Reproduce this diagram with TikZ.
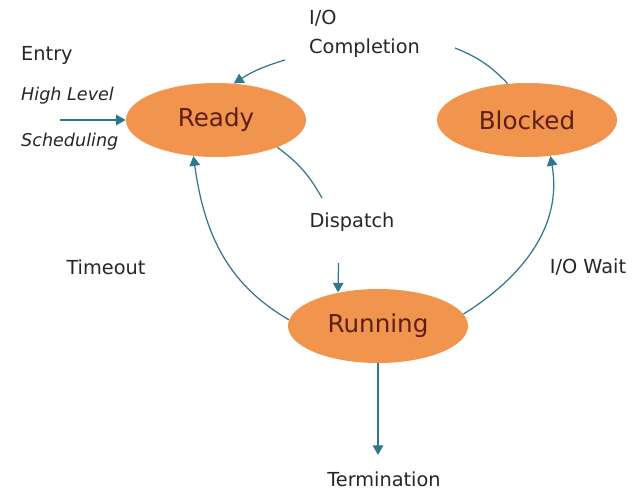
\documentclass[tikz,border=0pt]{standalone}
\usepackage{fontspec}
\setmainfont{DejaVu Sans}
\usetikzlibrary{arrows.meta, shapes.geometric}
\definecolor{stateorange}{RGB}{240, 148, 78}
\definecolor{statetext}{RGB}{95, 30, 20}
\definecolor{arrowteal}{RGB}{48, 118, 140}

\begin{document}
\begin{tikzpicture}[
  state/.style={ellipse, fill=stateorange, draw=none, inner sep=0pt,
    minimum width=3.6cm, minimum height=1.48cm, text=statetext, font=\fontsize{14}{16}\selectfont},
  lbl/.style={font=\fontsize{11}{13}\selectfont, text=black!85},
  entrylbl/.style={font=\fontsize{10}{12}\selectfont\itshape, text=black!85, anchor=west},
  trans/.style={-{Triangle[length=5.5pt, width=6pt]}, line width=0.7pt, arrowteal},
  plain/.style={line width=0.7pt, arrowteal}
]
\useasboundingbox (0, 0) rectangle (12.76, 9.8);

% States
\node[state] (ready) at (4.32, 7.40) {Ready};
\node[state] (blocked) at (10.54, 7.40) {Blocked};
\node[state] (running) at (7.56, 3.28) {Running};

% Entry
\node[lbl, anchor=west] (entry) at (0.30, 8.70) {Entry};
\node[entrylbl] (highlvl) at (0.30, 7.88) {High Level};
\node[entrylbl] (sched) at (0.30, 6.96) {Scheduling};
\coordinate (entryin) at (1.20, 7.40);
\draw[trans] (entryin) -- (ready.west);

% I/O completion
\node[lbl, anchor=west] (io) at (6.06, 9.44) {I/O};
\node[lbl, anchor=west] (compl) at (6.06, 8.84) {Completion};
\coordinate (complout) at (9.10, 8.84);
\coordinate (complin) at (5.70, 8.60);
\draw[plain] (blocked.118) to[bend right=12] (complout);
\draw[trans] (complin) to[bend right=8] (ready.64);

% Dispatch
\node[lbl] (dispatch) at (7.04, 5.36) {Dispatch};
\coordinate (dispout) at (6.44, 5.84);
\coordinate (dispin) at (6.77, 4.54);
\draw[plain] (ready.-24) to[bend left=12] (dispout);
\draw[trans] (dispin) -- (running.140);

% Timeout
\node[lbl] (timeout) at (2.12, 4.46) {Timeout};
\draw[trans] (running.176) to[out=150, in=-82] (ready.-122);

% I/O wait
\node[lbl] (iowait) at (11.76, 4.46) {I/O Wait};
\draw[trans] (running.8) to[out=32, in=-80] (blocked.-57);

% Termination
\node[lbl] (term) at (7.68, 0.22) {Termination};
\coordinate (termin) at (7.56, 0.70);
\draw[trans] (running.south) -- (termin);
\end{tikzpicture}
\end{document}
